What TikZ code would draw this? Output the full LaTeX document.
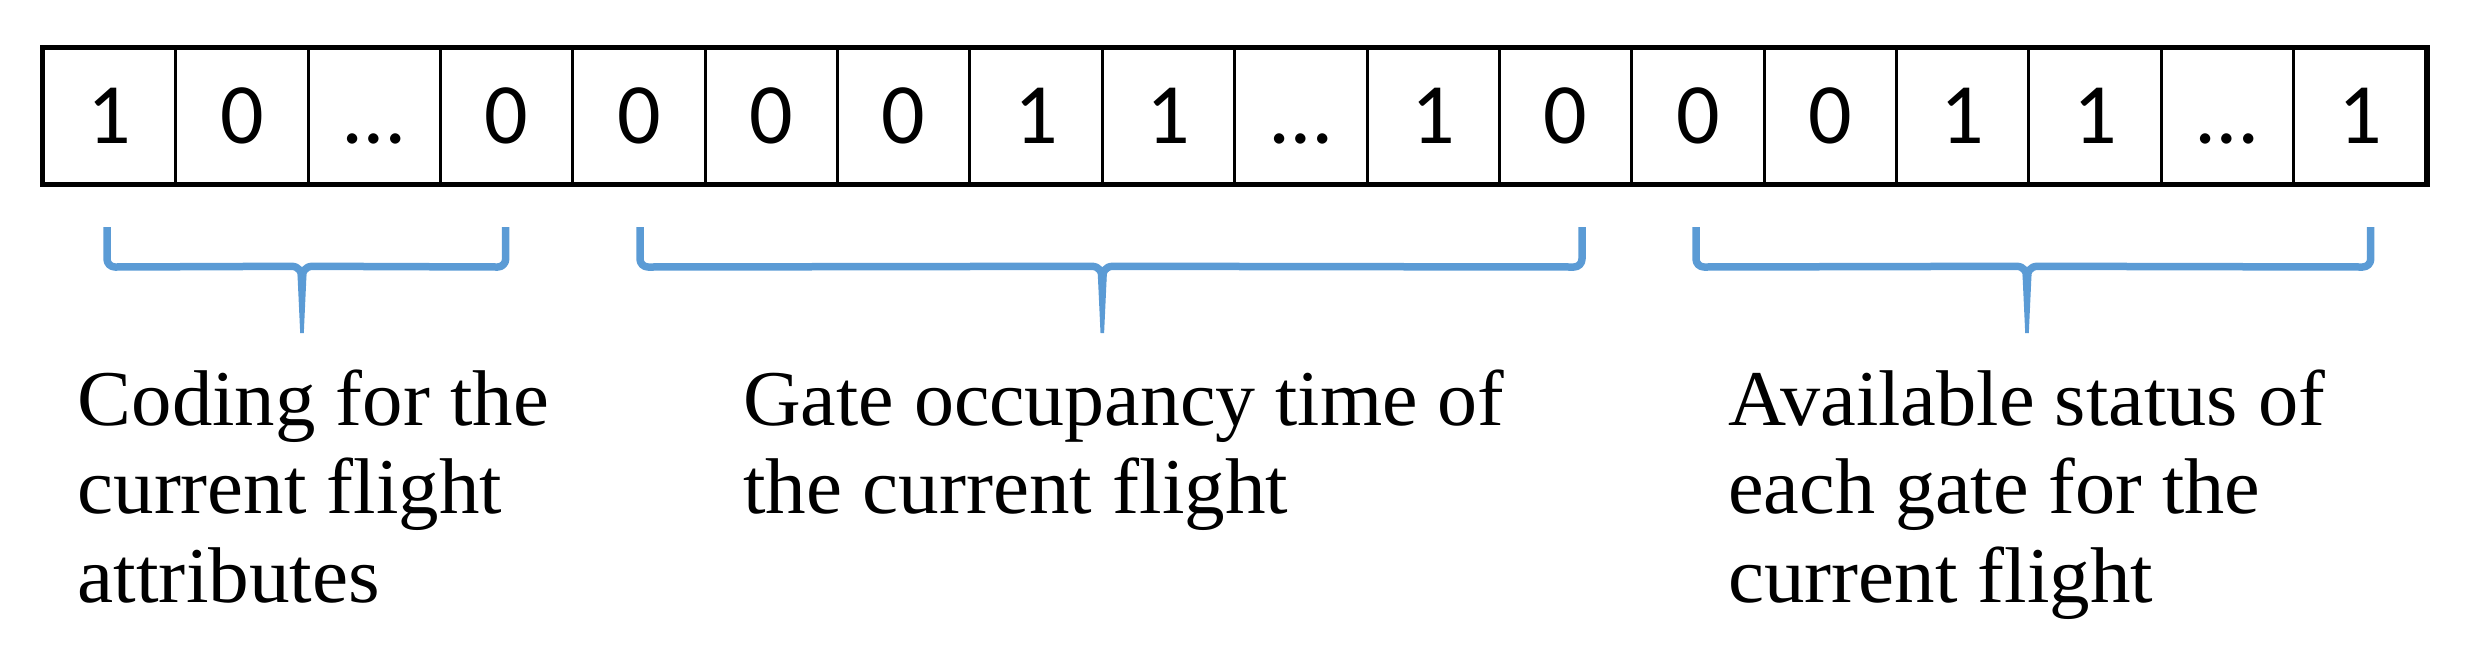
\documentclass[tikz,border=0pt]{standalone}
\usepackage{fontspec}
\setmainfont{Liberation Serif}
\newfontfamily\digitfont{Carlito}
\usetikzlibrary{calc}
\definecolor{braceblue}{RGB}{91,155,213}
\newsavebox\linebox
\newcommand{\fitline}[2]{\sbox\linebox{#2}\pgfmathsetmacro\linesx{#1/\wd\linebox}\scalebox{\linesx}[1]{\usebox\linebox}}
\tikzset{
  cell/.style={draw, line width=3pt, minimum width=132.37pt, minimum height=135pt,
    inner sep=0pt, text height=55pt, text depth=0pt,
    font=\digitfont\fontsize{86}{86}\selectfont},
  bracestroke/.style={draw=braceblue, line width=7.5pt, line cap=butt, line join=round},
  bracestem/.style={fill=braceblue, draw=none},
  lbl/.style={anchor=base west, inner sep=0pt, font=\fontsize{79}{88}\selectfont}
}
\newcommand{\gbrace}[4]{% left x, right x, tip x, name
  \coordinate (#4L) at (#1,227);
  \coordinate (#4R) at (#2,227);
  \coordinate (#4T) at (#3,333);
  \draw[bracestroke] (#4L) -- ($(#4L)+(0,32)$) arc[start angle=180, end angle=270, radius=8pt]
     -- ($(#4T)+(-11,-66.7)$) .. controls ($(#4T)+(-3,-66.7)$) and ($(#4T)+(0,-62)$) .. ($(#4T)+(0,-52)$);
  \draw[bracestroke] (#4R) -- ($(#4R)+(0,32)$) arc[start angle=0, end angle=-90, radius=8pt]
     -- ($(#4T)+(11,-66.7)$) .. controls ($(#4T)+(3,-66.7)$) and ($(#4T)+(0,-62)$) .. ($(#4T)+(0,-52)$);
  \fill[bracestem] ($(#4T)+(-4.5,-58)$) -- ($(#4T)+(-1.8,0)$) -- ($(#4T)+(1.8,0)$) -- ($(#4T)+(4.5,-58)$) -- cycle;
}
\begin{document}
\begin{tikzpicture}[x=1pt, y=-1pt]
\useasboundingbox (0,0) rectangle (2478,657);
\foreach \v [count=\i] in {1,0,…,0,0,0,0,1,1,…,1,0,0,0,1,1,…,1}
  \node[cell] (c\i) at ({43.3+(\i-0.5)*132.37},115.8) {\v};
\draw[line width=4.5pt] (c1.north west) rectangle (c18.south east);
\gbrace{107}{505.7}{302}{b1}
\gbrace{640}{1582}{1102.3}{b2}
\gbrace{1696}{2370.7}{2027}{b3}
% labels
\node[lbl] (l1a) at (77.5,425) {\fitline{471.5}{Coding for the}};
\node[lbl] (l1b) at (77.5,513) {\fitline{424.5}{current flight}};
\node[lbl] (l1c) at (77.5,602) {\fitline{302.5}{attributes}};
\node[lbl] (l2a) at (743,425) {\fitline{761}{Gate occupancy time of}};
\node[lbl] (l2b) at (743,513) {\fitline{545}{the current flight}};
\node[lbl] (l3a) at (1728,425) {\fitline{597}{Available status of}};
\node[lbl] (l3b) at (1728,513) {\fitline{532}{each gate for the}};
\node[lbl] (l3c) at (1728,602) {\fitline{425}{current flight}};
\end{tikzpicture}
\end{document}
